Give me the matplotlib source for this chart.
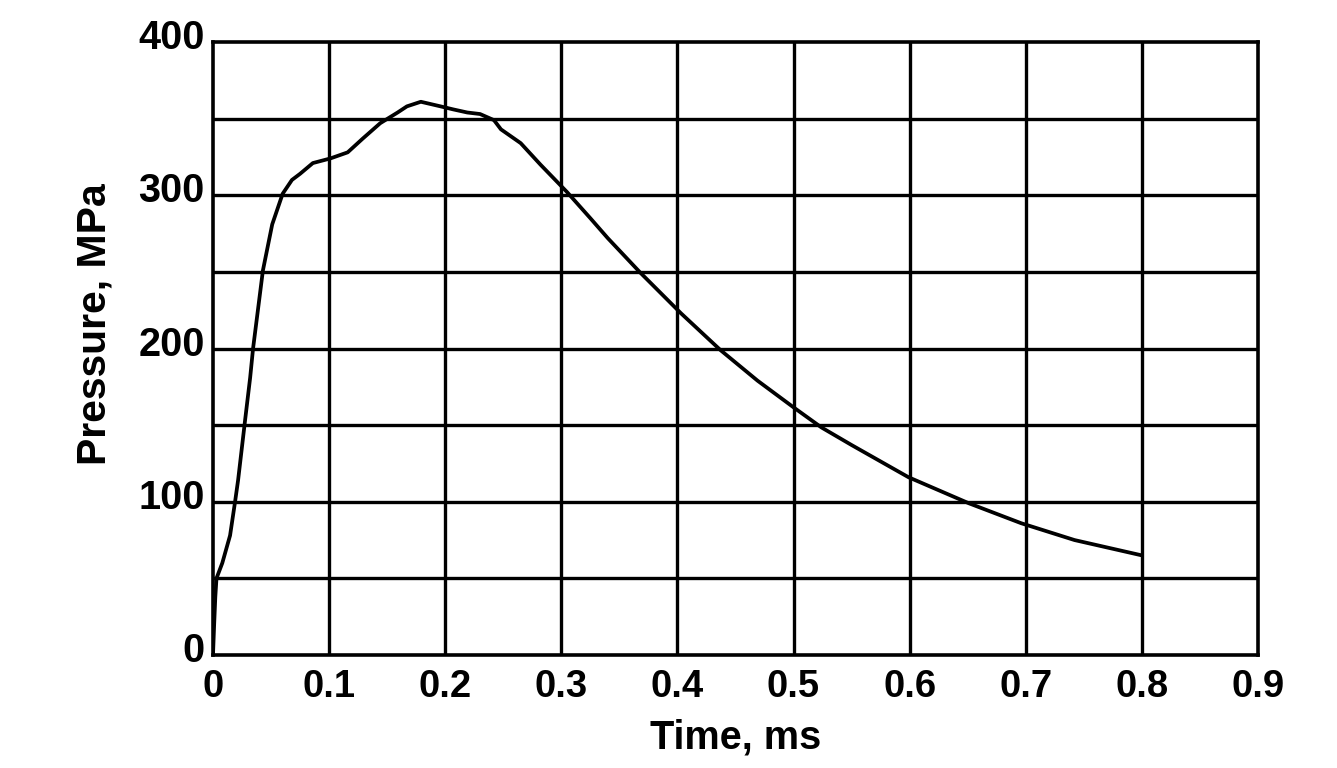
import matplotlib
matplotlib.use("Agg")
import matplotlib.pyplot as plt
import matplotlib.transforms as mtransforms

# Pressure-time curve
time_ms = [0.0, 0.001, 0.002, 0.003, 0.008, 0.0147, 0.019, 0.0216, 0.0276, 0.032, 0.0345,
           0.043, 0.051, 0.060, 0.068, 0.075, 0.086, 0.101, 0.116, 0.129, 0.144,
           0.159, 0.167, 0.179, 0.196, 0.207, 0.219, 0.230, 0.242, 0.248, 0.265,
           0.282, 0.305, 0.325, 0.340, 0.368, 0.403, 0.437, 0.469, 0.500, 0.524,
           0.550, 0.599, 0.651, 0.696, 0.742, 0.800]
pressure_mpa = [0, 20, 38, 50, 60, 78, 100, 114, 153, 181, 200,
                251, 281, 301, 310, 314, 321, 324, 328, 337, 347,
                354, 358, 361, 358, 356, 354, 353, 349, 343, 334,
                320, 302, 285, 272, 249.5, 223, 199, 179, 161.6, 148.5,
                137, 116, 99, 86, 75, 65]

x_ticks = [0, 0.1, 0.2, 0.3, 0.4, 0.5, 0.6, 0.7, 0.8, 0.9]
x_tick_labels = ["0", "0.1", "0.2", "0.3", "0.4", "0.5", "0.6", "0.7", "0.8", "0.9"]
y_ticks = [0, 100, 200, 300, 400]
y_tick_labels = ["0", "100", "200", "300", "400"]
y_grid = [50, 100, 150, 200, 250, 300, 350]
x_grid = [0.1, 0.2, 0.3, 0.4, 0.5, 0.6, 0.7, 0.8]

plt.rcParams['font.family'] = ['Liberation Sans', 'DejaVu Sans']
plt.rcParams['font.weight'] = 'bold'

fig = plt.figure(figsize=(13.37, 7.68), dpi=100)
ax = fig.add_axes([213 / 1337, 1 - 655 / 768, 1045 / 1337, 613 / 768])

for gx in x_grid:
    ax.axvline(gx, color='black', lw=2.4, zorder=1)
for gy in y_grid:
    ax.axhline(gy, color='black', lw=2.4, zorder=1)

ax.plot(time_ms, pressure_mpa, color='black', lw=2.7, zorder=3,
        solid_joinstyle='round', solid_capstyle='round')

ax.set_xlim(0, 0.9)
ax.set_ylim(0, 400)
for s in ax.spines.values():
    s.set_linewidth(2.6)
    s.set_color('black')

ax.set_xticks(x_ticks)
ax.set_xticklabels(x_tick_labels, fontsize=27.5, fontweight='bold')
ax.set_yticks(y_ticks)
ax.set_yticklabels(y_tick_labels, fontsize=28.5, fontweight='bold')
ax.tick_params(axis='both', length=0)
ax.tick_params(axis='x', pad=10)
ax.tick_params(axis='y', pad=6)

offset = mtransforms.ScaledTranslation(0, 8 / 100, fig.dpi_scale_trans)
for lab in ax.get_yticklabels():
    lab.set_transform(lab.get_transform() + offset)

ax.set_xlabel("Time, ms", fontsize=28.5, fontweight='bold')
ax.set_ylabel("Pressure, MPa", fontsize=29.5, fontweight='bold')
ax.xaxis.set_label_coords(0.5, -0.103)
ax.yaxis.set_label_coords(-0.095, 0.54)

fig.savefig("out.png", dpi=100)
